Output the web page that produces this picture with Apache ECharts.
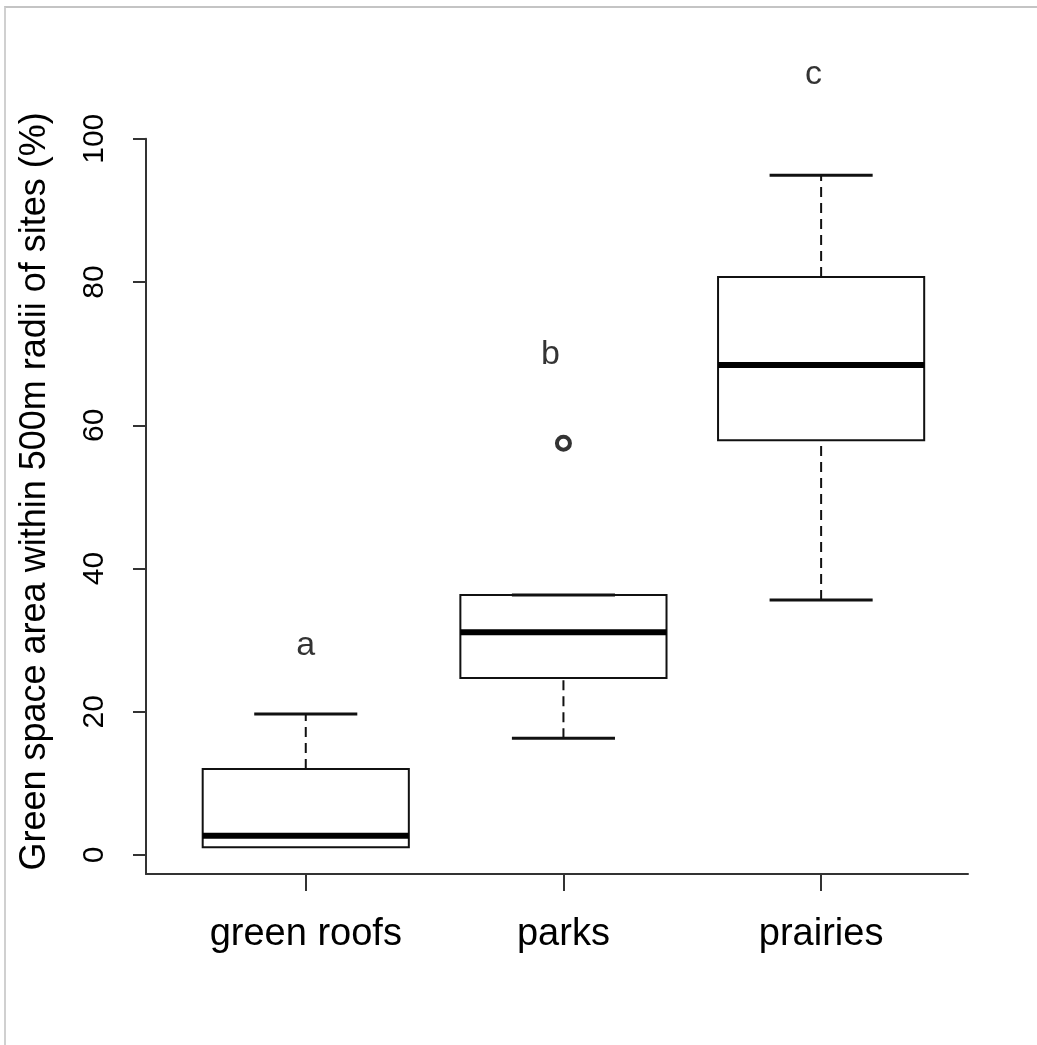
<!DOCTYPE html>
<html>
<head>
<meta charset="utf-8">
<script src="https://cdn.jsdelivr.net/npm/echarts@6/dist/echarts.min.js"></script>
<style>
  html, body { margin: 0; padding: 0; background: #fff; }
  #frame { position: absolute; left: 4px; top: 6px; right: 0; bottom: 0;
           border-top: 2px solid #c4c4c4; border-left: 2px solid #d0d0d0; }
  #chart { position: absolute; left: 0; top: 0; width: 1037px; height: 1045px; }
</style>
</head>
<body>
<div id="frame"></div>
<div id="chart"></div>
<script>
// Site groups and their box-and-whisker summaries (% green space within 500 m)
const categories   = ['green roofs', 'parks', 'prairies'];
const whiskerLow   = [1.1, 16.3, 35.6];
const lowerQuart   = [1.1, 24.7, 57.9];
const medians      = [2.7, 31.1, 68.4];
const upperQuart   = [12.0, 36.3, 80.7];
const whiskerHigh  = [19.7, 36.3, 94.9];

// Outlying observations: [group index, value]
const outliers = [[1, 57.5]];

// Significance-group letters and where they are written
const groupLetters = ['a', 'b', 'c'];
const letterX      = [1.0, 1.95, 2.97];
const letterY      = [29.3, 69.8, 109];

// Axis ticks
const yTicks = [0, 20, 40, 60, 80, 100];
const xTicks = [1, 2, 3];

const FONT = '"Liberation Sans", Arial, Helvetica, sans-serif';

const boxData = categories.map((c, i) =>
  [i + 1, whiskerLow[i], lowerQuart[i], medians[i], upperQuart[i], whiskerHigh[i]]);

function renderBox(params, api) {
  const x = api.value(0);
  const lo = api.value(1), q1 = api.value(2), med = api.value(3),
        q3 = api.value(4), hi = api.value(5);
  const half = 0.4, capHalf = 0.2;
  const tl = api.coord([x - half, q3]);
  const br = api.coord([x + half, q1]);
  const c = (v) => api.coord([x, v]);
  const line = (a, b, style) => ({
    type: 'line',
    shape: { x1: a[0], y1: a[1], x2: b[0], y2: b[1] },
    style: Object.assign({ stroke: '#111', lineWidth: 2 }, style)
  });
  const children = [];
  if (hi > q3) children.push(line(c(q3), c(hi), { lineDash: [10, 6] }));
  if (lo < q1) children.push(line(c(lo), c(q1), { lineDash: [10, 6] }));
  children.push({
    type: 'rect',
    shape: { x: tl[0], y: tl[1], width: br[0] - tl[0], height: br[1] - tl[1] },
    style: { fill: '#fff', stroke: '#111', lineWidth: 2 }
  });
  children.push(line(api.coord([x - half, med]), api.coord([x + half, med]),
                     { lineWidth: 6, stroke: '#000' }));
  if (hi > q1) {
    children.push(line(api.coord([x - capHalf, hi]), api.coord([x + capHalf, hi]),
                       { lineWidth: 3 }));
  }
  if (lo < q1) {
    children.push(line(api.coord([x - capHalf, lo]), api.coord([x + capHalf, lo]),
                       { lineWidth: 3 }));
  }
  return { type: 'group', children };
}

const chart = echarts.init(document.getElementById('chart'), null, { renderer: 'canvas' });

chart.setOption({
  backgroundColor: 'transparent',
  animation: false,
  grid: { left: 146, right: 69, top: 138.75, bottom: 171 },
  xAxis: {
    type: 'value',
    min: 0.38,
    max: 3.57,
    splitLine: { show: false },
    axisLine: { show: true, onZero: false, lineStyle: { color: '#333', width: 2 } },
    axisTick: { show: true, customValues: xTicks, length: 17,
                lineStyle: { color: '#333', width: 2 } },
    axisLabel: {
      customValues: xTicks,
      formatter: (v) => categories[Math.round(v) - 1] || '',
      margin: 42,
      fontFamily: FONT,
      fontSize: 38,
      color: '#000'
    }
  },
  yAxis: {
    type: 'value',
    min: -2.65,
    max: 100,
    splitLine: { show: false },
    axisLine: { show: true, onZero: false, lineStyle: { color: '#333', width: 2 } },
    axisTick: { show: true, customValues: yTicks, length: 13,
                lineStyle: { color: '#333', width: 2 } },
    axisLabel: {
      customValues: yTicks,
      rotate: 90,
      margin: 36,
      fontFamily: FONT,
      fontSize: 30,
      color: '#000'
    },
    name: 'Green space area within 500m radii of sites (%)',
    nameLocation: 'middle',
    nameRotate: 90,
    nameGap: 93,
    nameTextStyle: { fontFamily: FONT, fontSize: 36, color: '#000', padding: [0, 0, 0, 30] }
  },
  series: [
    {
      type: 'custom',
      renderItem: renderBox,
      data: boxData,
      encode: { x: 0, y: [1, 2, 3, 4, 5] },
      clip: false,
      z: 2
    },
    {
      type: 'scatter',
      data: outliers.map(o => [o[0] + 1, o[1]]),
      symbol: 'circle',
      symbolSize: 13,
      itemStyle: { color: '#fff', borderColor: '#000', borderWidth: 4 },
      z: 3
    },
    {
      type: 'scatter',
      data: groupLetters.map((l, i) => [letterX[i], letterY[i], l]),
      symbolSize: 0,
      clip: false,
      label: {
        show: true,
        position: 'inside',
        formatter: (p) => p.value[2],
        fontFamily: FONT,
        fontSize: 34,
        color: '#000'
      },
      z: 3
    }
  ]
});
</script>
</body>
</html>
